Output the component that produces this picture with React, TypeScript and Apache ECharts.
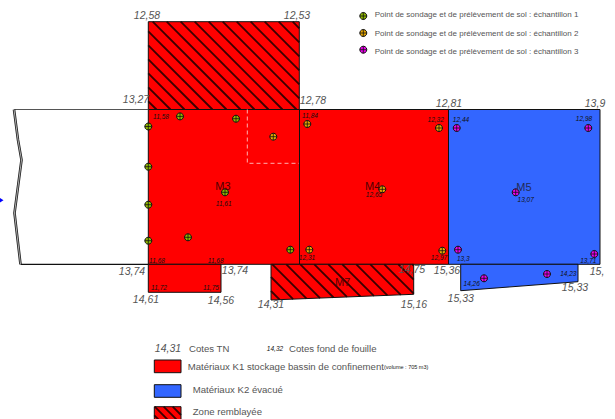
import React, { useEffect, useRef } from "react";
import * as echarts from "echarts";

type Pt = [number, number];

const RED = "#ff0000";
const BLUE = "#3366ff";

const zoneTopFill: Pt[] = [[148.3, 21.7], [299.3, 21.7], [299.3, 109.5], [148.3, 109.5]];
const zoneM3: Pt[] = [[148.3, 109.5], [299.5, 109.5], [299.5, 264.3], [148.3, 264.3]];
const zoneM4: Pt[] = [[299.5, 109.5], [448.5, 109.5], [448.5, 264.3], [299.5, 264.3]];
const zoneM5: Pt[] = [[448.5, 109.5], [600, 109.5], [600, 264.3], [448.5, 264.3]];
const zoneSmallRed: Pt[] = [[148.3, 264.3], [221, 264.3], [221, 292.3], [148.3, 292.3]];
const zoneM7: Pt[] = [[271, 264.3], [413.7, 264.3], [413.7, 294.3], [271, 300]];
const zoneSmallBlue: Pt[] = [[460.7, 264.3], [578, 264.3], [578, 281.7], [460.7, 290.7]];
const swatchK1: Pt[] = [[154.3, 360], [181, 360], [181, 372.7], [154.3, 372.7]];
const swatchK2: Pt[] = [[154.3, 384.7], [181, 384.7], [181, 397.3], [154.3, 397.3]];
const swatchFill: Pt[] = [[154.3, 406.7], [181, 406.7], [181, 422], [154.3, 422]];

const zones: { pts: Pt[]; fill: string; hatch: number; phase: number }[] = [
  { pts: zoneTopFill, fill: RED, hatch: 14, phase: 9 },
  { pts: zoneM3, fill: RED, hatch: 0, phase: 0 },
  { pts: zoneM4, fill: RED, hatch: 0, phase: 0 },
  { pts: zoneM5, fill: BLUE, hatch: 0, phase: 0 },
  { pts: zoneSmallRed, fill: RED, hatch: 0, phase: 0 },
  { pts: zoneM7, fill: RED, hatch: 14, phase: 6 },
  { pts: zoneSmallBlue, fill: BLUE, hatch: 0, phase: 0 },
  { pts: swatchK1, fill: RED, hatch: 0, phase: 0 },
  { pts: swatchK2, fill: BLUE, hatch: 0, phase: 0 },
  { pts: swatchFill, fill: RED, hatch: 9, phase: 0 },
];

const wallTop: Pt[] = [[14, 109.5], [148.3, 109.5]];
const wallBottom: Pt[] = [[20.5, 264.3], [148.3, 264.3]];
const zigzag: Pt[] = [[14, 109.5], [18, 140], [21.5, 160], [14.5, 213], [20.5, 264.3]];
const dashedZone: Pt[] = [[247.3, 109.5], [247.3, 163.3], [299, 163.3]];

const samples1: Pt[] = [[180, 116.4], [236, 118.7], [148.3, 126.5], [148.3, 166.7], [148.3, 204.7], [148.3, 240.7], [188, 237.3], [225, 192.3], [290.3, 249.7], [363.3, 16]];
const samples2: Pt[] = [[273.3, 136.7], [307.3, 124], [439, 128], [382.3, 189.3], [309.3, 249.7], [442.3, 250.7], [363.3, 33]];
const samples3: Pt[] = [[456.7, 128], [588.3, 128], [515.7, 192.3], [458, 249.7], [594.3, 254], [484, 278.3], [547, 274], [363.3, 49.7]];

const tnLabels: [string, number, number][] = [
  ["12,58", 147, 15], ["12,53", 297, 15], ["13,27", 136, 99], ["12,78", 313, 100],
  ["12,81", 449, 103], ["13,9", 595, 103], ["13,74", 132, 271], ["13,74", 235, 270],
  ["14,61", 146, 299], ["14,56", 221, 300], ["14,31", 271, 304], ["14,75", 412, 269],
  ["15,36", 447, 270], ["15,33", 460.7, 298], ["15,33", 575, 287], ["15,", 597, 271],
  ["15,16", 414, 304],
];
const bottomLabels: [string, number, number][] = [
  ["11,58", 161, 116.7], ["11,84", 310, 115.5], ["12,32", 435.7, 119.5], ["12,44", 461, 119.7],
  ["12,98", 584, 118], ["11,61", 223.7, 203.3], ["12,65", 374, 194], ["13,07", 525.7, 199],
  ["11,68", 157, 260], ["11,68", 215.7, 260], ["12,31", 307, 257.7], ["12,97", 439, 257.7],
  ["13,3", 463.3, 258.3], ["13,71", 588.3, 260.3], ["14,26", 471.7, 283.3], ["14,23", 568.3, 273.7],
  ["11,72", 159, 287], ["11,75", 211, 287], ["14,32", 275, 348],
];
const zoneLabelsRed: [string, number, number][] = [
  ["M3", 223, 186], ["M4", 372.7, 186], ["M7", 342.7, 281.7],
];
const zoneLabelsBlue: [string, number, number][] = [["M5", 524, 186.7]];
const legendSamples: [string, number, number][] = [
  ["Point de sondage et de prélèvement de sol : échantillon 1", 374.7, 14.7],
  ["Point de sondage et de prélèvement de sol : échantillon 2", 374.7, 33],
  ["Point de sondage et de prélèvement de sol : échantillon 3", 374.7, 51],
];
const legendMain: [string, number, number][] = [
  ["Cotes TN", 189, 348.3],
  ["Cotes fond de fouille", 289, 348.3],
  ["Matériaux K1 stockage bassin de confinement", 187.7, 366.7],
  ["Matériaux K2 évacué", 192.7, 389.3],
  ["Zone remblayée", 192.7, 411.7],
];
const legendTn: [string, number, number][] = [["14,31", 168, 348.3]];
const legendVolume: [string, number, number][] = [["(volume : 705 m3)", 384, 367]];
const arrow: Pt[] = [[0, 198], [3.5, 200.3], [0, 202.5]];

function clipDiagonal(poly: Pt[], c: number): Pt[] {
  const hits: Pt[] = [];
  for (let i = 0; i < poly.length; i++) {
    const a = poly[i];
    const b = poly[(i + 1) % poly.length];
    const fa = a[1] - a[0] - c;
    const fb = b[1] - b[0] - c;
    if (fa === fb || fa * fb > 0) continue;
    const t = fa / (fa - fb);
    hits.push([a[0] + (b[0] - a[0]) * t, a[1] + (b[1] - a[1]) * t]);
  }
  return hits.length >= 2 ? [hits[0], hits[hits.length - 1]] : [];
}

const zoneItem = (_: any, api: any) => {
  const z = zones[_.dataIndex];
  const toPx = (p: Pt) => api.coord(p) as number[];
  const children: any[] = [
    { type: "polygon", shape: { points: z.pts.map(toPx) }, style: { fill: z.fill, stroke: "none" } },
  ];
  if (z.hatch) {
    const vals = z.pts.map((p) => p[1] - p[0]);
    const lo = Math.min(...vals);
    const hi = Math.max(...vals);
    for (let c = Math.ceil((lo - z.phase) / z.hatch) * z.hatch + z.phase; c < hi; c += z.hatch) {
      const seg = clipDiagonal(z.pts, c);
      if (seg.length) {
        const [a, b] = seg.map(toPx);
        children.push({ type: "line", shape: { x1: a[0], y1: a[1], x2: b[0], y2: b[1] }, style: { stroke: "#3a0000", lineWidth: 1.8 } });
      }
    }
  }
  children.push({ type: "polygon", shape: { points: z.pts.map(toPx) }, style: { fill: "none", stroke: "#101010", lineWidth: 1 } });
  return { type: "group", children };
};

const strokeSeries = (name: string, pts: Pt[], color: string, width: number, type: any = "solid") => ({
  type: "line", name, data: pts, coordinateSystem: "cartesian2d", showSymbol: false, symbol: "none", silent: true,
  clip: false, lineStyle: { color, width, type }, z: 3,
});

const sampleSeries = (name: string, pts: Pt[], fill: string) => ({
  type: "custom", name, coordinateSystem: "cartesian2d", data: pts, silent: true, clip: false, z: 5,
  renderItem: (_: any, api: any) => {
    const [x, y] = api.coord([api.value(0), api.value(1)]);
    const r = 3.5;
    return {
      type: "group",
      children: [
        { type: "circle", shape: { cx: x, cy: y, r }, style: { fill, stroke: "#111111", lineWidth: 1 } },
        { type: "line", shape: { x1: x - r, y1: y, x2: x + r, y2: y }, style: { stroke: "#111111", lineWidth: 0.8 } },
        { type: "line", shape: { x1: x, y1: y - r, x2: x, y2: y + r }, style: { stroke: "#111111", lineWidth: 0.8 } },
      ],
    };
  },
});

const textSeries = (name: string, rows: [string, number, number][], font: any, align = "center") => ({
  type: "custom", name, coordinateSystem: "cartesian2d", silent: true, clip: false, z: 6,
  data: rows.map((r) => [r[1], r[2]]),
  renderItem: (p: any, api: any) => {
    const [x, y] = api.coord([api.value(0), api.value(1)]);
    return {
      type: "text", x, y,
      style: {
        text: rows[p.dataIndex][0], x: 0, y: 0, verticalAlign: "middle", align,
        fontFamily: "Liberation Sans", ...font,
      },
    };
  },
});

export default function App() {
  const ref = useRef<HTMLDivElement>(null);
  useEffect(() => {
    document.body.style.margin = "0";
    const chart = echarts.init(ref.current!, undefined, { renderer: "svg" });
    chart.setOption({
      animation: false,
      backgroundColor: "#ffffff",
      grid: { left: 0, right: 0, top: 0, bottom: 0 },
      xAxis: { type: "value", min: 0, max: 615, show: false },
      yAxis: { type: "value", min: 0, max: 419, inverse: true, show: false },
      tooltip: { show: false },
      series: [
        {
          type: "custom", name: "zones", coordinateSystem: "cartesian2d", silent: true, clip: true, z: 2,
          data: zones.map((z) => z.pts[0]), renderItem: zoneItem,
        },
        strokeSeries("wallTop", wallTop, "#555555", 1.2),
        strokeSeries("wallBottom", wallBottom, "#101010", 1.2),
        strokeSeries("zigzagOuter", zigzag, "#202020", 2.6),
        strokeSeries("zigzagInner", zigzag, "#cfcfcf", 0.8),
        strokeSeries("dashed", dashedZone, "#ffb0b0", 1, [4, 3]),
        {
          type: "custom", name: "arrow", coordinateSystem: "cartesian2d", silent: true, clip: false, z: 5,
          data: [arrow[0]],
          renderItem: (_: any, api: any) => ({
            type: "polygon", shape: { points: arrow.map((p) => api.coord(p)) }, style: { fill: "#0000ff" },
          }),
        },
        sampleSeries("Echantillon 1", samples1, "#8fb800"),
        sampleSeries("Echantillon 2", samples2, "#e8a800"),
        sampleSeries("Echantillon 3", samples3, "#ee00ee"),
        textSeries("Cotes TN", tnLabels, { fontSize: 10.5, fontStyle: "italic", fill: "#555555" }),
        textSeries("Cotes fond", bottomLabels, { fontSize: 6.5, fontStyle: "italic", fill: "#111111" }),
        textSeries("Zones red", zoneLabelsRed, { fontSize: 11, fill: "#500000" }),
        textSeries("Zones blue", zoneLabelsBlue, { fontSize: 11, fill: "#222a55" }),
        textSeries("Legend tn", legendTn, { fontSize: 10.5, fontStyle: "italic", fill: "#555555" }),
        textSeries("Legend samples", legendSamples, { fontSize: 8, fill: "#555555" }, "left"),
        textSeries("Legend main", legendMain, { fontSize: 9.6, fill: "#555555" }, "left"),
        textSeries("Legend volume", legendVolume, { fontSize: 5.5, fill: "#222222" }, "left"),
      ],
    });
    return () => chart.dispose();
  }, []);
  return <div ref={ref} style={{ width: 615, height: 419 }} />;
}
